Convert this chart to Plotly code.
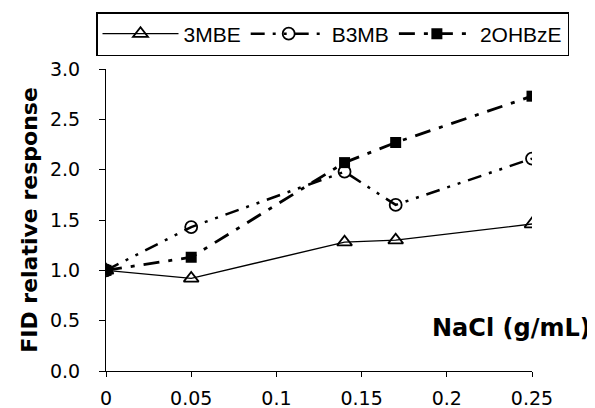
import plotly.graph_objects as go

x_nacl = [0, 0.05, 0.14, 0.17, 0.25]
y_3mbe = [1.0, 0.92, 1.28, 1.30, 1.46]
y_b3mb = [1.0, 1.43, 1.98, 1.65, 2.11]
y_2ohbze = [1.0, 1.13, 2.07, 2.27, 2.73]

x_ticks = [0, 0.05, 0.1, 0.15, 0.2, 0.25]
x_ticklabels = ["0", "0.05", "0.1", "0.15", "0.2", "0.25"]
y_ticks = [0, 0.5, 1.0, 1.5, 2.0, 2.5, 3.0]
y_ticklabels = ["0.0", "0.5", "1.0", "1.5", "2.0", "2.5", "3.0"]

FONT = "DejaVu Sans, Verdana, sans-serif"

# page body has an 8px margin; figure is drawn from (8, 8)
OFF = 8
PL, PR, PT, PB = 106, 532, 69, 371  # plot area in page pixels

fig = go.Figure()
fig.add_trace(go.Scatter(
    x=x_nacl, y=y_3mbe, name="3MBE", mode="lines+markers",
    line=dict(color="black", width=1.4),
    marker=dict(symbol="triangle-up-open", size=13, color="black", line=dict(width=1.8)),
))
fig.add_trace(go.Scatter(
    x=x_nacl, y=y_b3mb, name="B3MB", mode="lines+markers",
    line=dict(color="black", width=2.5, dash="14px,8px,3px,8px,3px,8px"),
    marker=dict(symbol="circle-open", size=12, color="black", line=dict(width=1.8)),
))
fig.add_trace(go.Scatter(
    x=x_nacl, y=y_2ohbze, name="2OHBzE", mode="lines+markers",
    line=dict(color="black", width=2.8, dash="16px,9px,4px,9px"),
    marker=dict(symbol="square", size=11, color="black"),
))

axis_common = dict(showgrid=False, zeroline=False, tickcolor="black", tickwidth=1)
pw = PR - PL
ph = PB - PT

fig.update_layout(
    width=595 - OFF, height=408 - OFF,
    margin=dict(l=PL - OFF, r=595 - PR, t=PT - OFF, b=408 - PB, autoexpand=False),
    paper_bgcolor="white", plot_bgcolor="white",
    font=dict(family=FONT, size=19, color="black"),
    showlegend=True,
    legend=dict(
        orientation="h", x=(96 - PL) / pw, xanchor="left",
        y=(PB - 12) / ph, yanchor="top",
        bordercolor="black", borderwidth=1.5,
        font=dict(family="Liberation Sans, Arial, sans-serif", size=21),
        itemwidth=76, tracegroupgap=0,
    ),
    xaxis=dict(
        range=[0, 0.25], tickvals=x_ticks, ticktext=x_ticklabels,
        showline=True, linecolor="black", linewidth=1.2,
        ticks="outside", ticklen=5, ticklabelstandoff=5, **axis_common,
    ),
    yaxis=dict(
        range=[0, 3.0], tickvals=y_ticks, ticktext=y_ticklabels,
        showline=True, linecolor="black", linewidth=1.2,
        ticks="outside", ticklen=6, ticklabelstandoff=15, **axis_common,
        title=dict(text="<b>FID relative response</b>", font=dict(size=22), standoff=6),
    ),
    xaxis2=dict(
        range=[0, 0.25], tickvals=x_ticks, overlaying="x", showticklabels=False,
        ticks="inside", ticklen=5, showline=False, **axis_common,
    ),
    yaxis2=dict(
        range=[0, 3.0], tickvals=y_ticks, overlaying="y", showticklabels=False,
        ticks="inside", ticklen=6, showline=False, **axis_common,
    ),
    annotations=[dict(
        text="<b>NaCl (g/mL)</b>", x=(593 - PL) / pw, y=(PB - 328) / ph,
        xref="paper", yref="paper",
        xanchor="right", yanchor="middle", showarrow=False, font=dict(size=24),
    )],
)

fig.write_html("out.html")
